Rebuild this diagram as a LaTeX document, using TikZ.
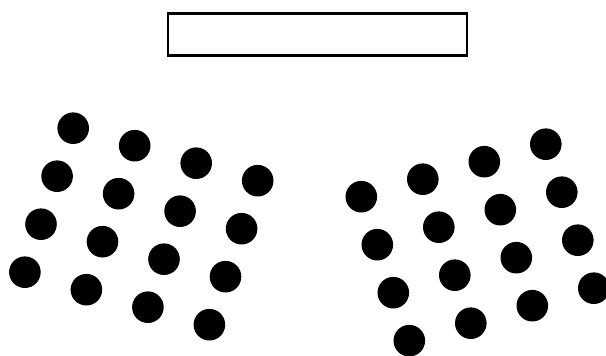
\documentclass[tikz,border=0pt]{standalone}
\usetikzlibrary{positioning}
\begin{document}
\begin{tikzpicture}[
    x=1pt, y=-1pt,
    frame/.style={
        draw,
        line width=2.3pt,
        minimum width=299.3pt,
        minimum height=42.1pt,
        inner sep=0pt
    },
    dot/.style={
        circle,
        fill=black,
        minimum size=31.6pt,
        inner sep=0pt
    }
]
\useasboundingbox (0,0) rectangle (606,356);

% Empty box at the top
\node[frame] (box) at (317.5,34.5) {};

% Left cluster (4 rows of 4, tilted down to the right)
\foreach \r in {0,...,3}
  \foreach \c in {0,...,3}
    \node[dot] (left-\r-\c) at ({73.2+61.5*\c-16.1*\r},{128.2+17.5*\c+48*\r}) {};

% Right cluster (4 rows of 4, tilted up to the right)
\foreach \r in {0,...,3}
  \foreach \c in {0,...,3}
    \node[dot] (right-\r-\c) at ({361.3+61.5*\c+16*\r},{196.7-17.5*\c+48*\r}) {};

\end{tikzpicture}
\end{document}
